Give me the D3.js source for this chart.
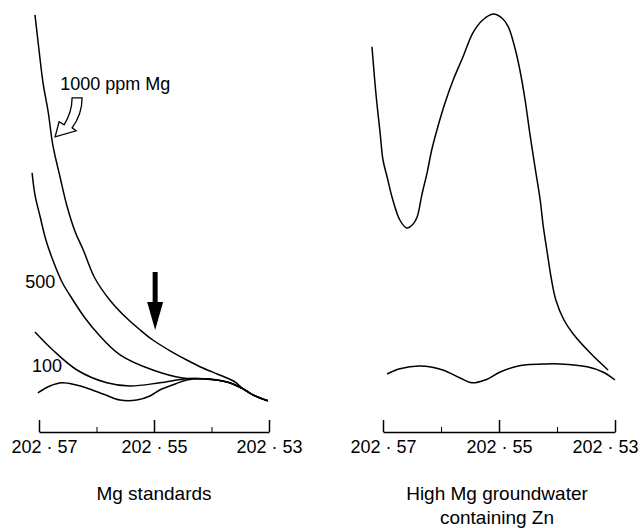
<!DOCTYPE html>
<html>
<head>
<meta charset="utf-8">
<script src="https://cdn.jsdelivr.net/npm/d3@7"></script>
<style>
  body { margin: 0; background: #fff; }
  svg { display: block; }
  text { font-family: "Liberation Sans", Arial, sans-serif; fill: #000; }
</style>
</head>
<body>
<script>
// wavelength (nm), emission intensity (arbitrary units)
var mg1000 = [[202.5707,104.3],[202.5700,95.5],[202.5693,87.3],[202.5684,80.0],[202.5676,71.8],[202.5663,63.5],
  [202.5651,56.3],[202.5637,50.0],[202.5623,45.5],[202.5603,38.5],[202.5577,33.0],[202.5550,28.8],[202.5524,25.5],
  [202.5502,23.0],[202.5472,20.3],[202.5443,18.0],[202.5415,16.0],[202.5390,14.5],[202.5373,13.5],[202.5359,12.5],
  [202.5345,10.8],[202.5328,9.3],[202.5302,7.8]];
var mg500 = [[202.5712,64.8],[202.5707,59.3],[202.5698,53.8],[202.5688,48.0],[202.5676,43.0],[202.5660,37.5],
  [202.5641,33.0],[202.5620,28.5],[202.5599,24.8],[202.5559,19.3],[202.5502,15.5],[202.5450,13.5],[202.5415,13.3],
  [202.5373,12.5],[202.5345,10.8],[202.5328,9.3],[202.5302,7.8]];
var mg100 = [[202.5707,25.0],[202.5676,20.5],[202.5634,15.5],[202.5582,12.3],[202.5542,11.5],[202.5490,12.3],
  [202.5443,13.3],[202.5415,13.3],[202.5373,12.5],[202.5345,10.8],[202.5328,9.3],[202.5302,7.8]];
var mgBlank = [[202.5702,9.8],[202.5681,11.5],[202.5660,12.3],[202.5637,11.8],[202.5617,11.0],[202.5585,9.3],
  [202.5559,8.0],[202.5530,8.0],[202.5507,9.0],[202.5490,10.5],[202.5463,12.0],[202.5443,13.0],[202.5415,13.3],
  [202.5373,12.5],[202.5345,10.8],[202.5328,9.3],[202.5302,7.8]];
var groundwater = [[202.5719,96.3],[202.5712,84.3],[202.5705,74.8],[202.5700,68.0],[202.5693,63.8],[202.5684,58.5],
  [202.5671,53.0],[202.5659,51.0],[202.5648,52.0],[202.5641,53.8],[202.5633,59.3],[202.5624,64.8],[202.5616,70.5],
  [202.5607,75.5],[202.5593,82.3],[202.5579,88.0],[202.5562,93.8],[202.5545,99.8],[202.5528,103.0],[202.5510,104.5],
  [202.5495,103.5],[202.5484,101.3],[202.5474,96.8],[202.5464,90.5],[202.5455,83.0],[202.5447,74.8],[202.5438,66.3],
  [202.5429,58.0],[202.5424,51.8],[202.5417,45.0],[202.5410,38.5],[202.5402,33.0],[202.5388,28.0],[202.5372,24.5],
  [202.5343,19.8],[202.5312,15.5]];
var groundwaterLow = [[202.5693,14.5],[202.5671,15.8],[202.5636,16.5],[202.5597,15.5],[202.5567,13.5],[202.5547,12.3],
  [202.5524,13.0],[202.5498,15.0],[202.5472,16.3],[202.5452,16.8],[202.5421,17.0],[202.5395,17.0],[202.5348,16.3],
  [202.5321,15.0],[202.5300,13.0]];

var majorTicks = [202.57, 202.55, 202.53];
var minorTicks = [202.56, 202.54];
var curveLabels = [{text:"1000 ppm Mg", wl:202.5663, v:85.5}, {text:"500", wl:202.5724, v:36}, {text:"100", wl:202.5712, v:15}];

var width = 642, height = 528;
var svg = d3.select("body").append("svg").attr("width", width).attr("height", height);

var y = d3.scaleLinear().domain([0, 108]).range([432, 0]);
var xL = d3.scaleLinear().domain([202.57, 202.53]).range([39, 269]);
var xR = d3.scaleLinear().domain([202.57, 202.53]).range([383, 615]);

var fmt = function(d){ return d.toFixed(2).replace(".", " \u00B7 "); };

function panel(x, series, edgeShift) {
  var g = svg.append("g");
  var line = d3.line()
    .x(function(d){ return x(d[0]); })
    .y(function(d){ return y(d[1]); })
    .curve(d3.curveCatmullRom.alpha(0.5));

  g.selectAll("path.trace").data(series).enter().append("path")
    .attr("class", "trace")
    .attr("d", line)
    .attr("fill", "none")
    .attr("stroke", "#000")
    .attr("stroke-width", 1.5);

  // major ticks point upward, labels below
  var ax = g.append("g").attr("transform", "translate(0," + y(0) + ")")
    .call(d3.axisBottom(x).tickValues(majorTicks).tickFormat(fmt).tickSizeInner(-12).tickSizeOuter(0).tickPadding(8));
  ax.select(".domain").attr("stroke-width", 1.5);
  ax.selectAll(".tick line").attr("stroke-width", 1.5);
  ax.selectAll(".tick text").style("font-size", "18px").attr("fill", "#000")
    .attr("dx", function(d, i){ return edgeShift[i] || 0; });

  var mn = g.append("g").attr("transform", "translate(0," + y(0) + ")")
    .call(d3.axisBottom(x).tickValues(minorTicks).tickFormat("").tickSizeInner(-5).tickSizeOuter(0));
  mn.select(".domain").remove();
  return g;
}

panel(xL, [mg1000, mg500, mg100, mgBlank], [5, 0, 0]);
panel(xR, [groundwater, groundwaterLow], [0, 0, -10]);

svg.selectAll("text.clabel").data(curveLabels).enter().append("text")
  .attr("class", "clabel")
  .attr("x", function(d){ return xL(d.wl); })
  .attr("y", function(d){ return y(d.v); })
  .style("font-size", "18px")
  .text(function(d){ return d.text; });

// hollow curved arrow pointing at the 1000 ppm trace
var hollowTip = {wl: 202.5672, v: 73.8};
svg.append("path")
  .attr("transform", "translate(" + xL(hollowTip.wl) + "," + y(hollowTip.v) + ")")
  .attr("d", "M17,-39 L27,-39 C27,-27 23,-17 17,-9 L21,-6 L0,0 L4,-15 L9,-12 C14,-20 17,-29 17,-39 Z")
  .attr("fill", "#fff")
  .attr("stroke", "#000")
  .attr("stroke-width", 1.3)
  .attr("stroke-linejoin", "miter");

// solid arrow marking the Zn line position
var markTip = {wl: 202.5498, v: 25.5};
svg.append("path")
  .attr("transform", "translate(" + xL(markTip.wl) + "," + y(markTip.v) + ")")
  .attr("d", "M-2.5,-58 L2.5,-58 L2.5,-28 L8,-28 L0,0 L-8,-28 L-2.5,-28 Z")
  .attr("fill", "#000");

svg.append("text")
  .attr("x", xL(202.55)).attr("y", 500)
  .attr("text-anchor", "middle").style("font-size", "19px")
  .text("Mg standards");

var t2 = svg.append("text")
  .attr("x", xR(202.55) - 2).attr("y", 500)
  .attr("text-anchor", "middle").style("font-size", "19px");
t2.append("tspan").attr("x", xR(202.55) - 2).text("High Mg groundwater");
t2.append("tspan").attr("x", xR(202.55) - 2).attr("dy", 24).text("containing Zn");
</script>
</body>
</html>
